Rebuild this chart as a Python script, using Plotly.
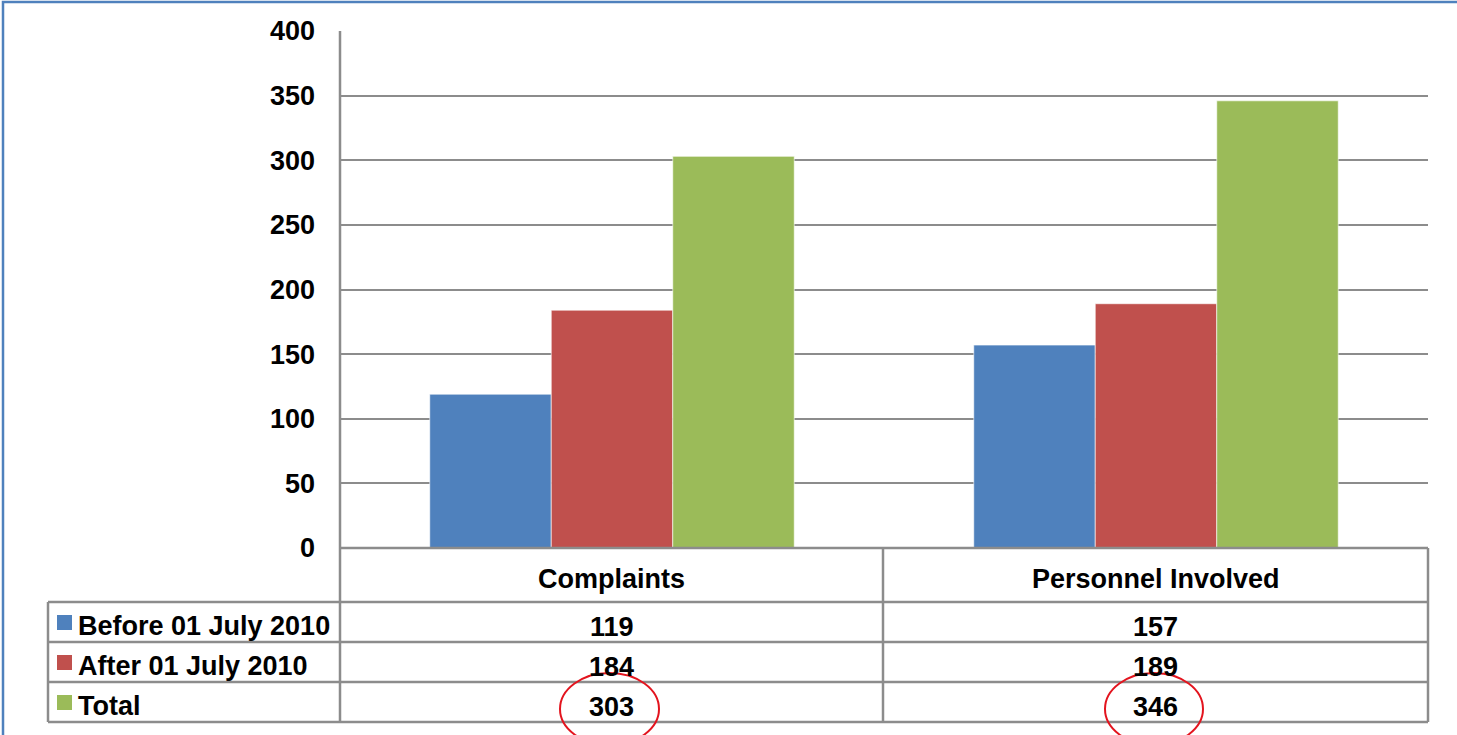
import plotly.graph_objects as go

# data
categories = ["Complaints", "Personnel Involved"]
series_names = ["Before 01 July 2010", "After 01 July 2010", "Total"]
before = [119, 157]
after = [184, 189]
total = [303, 346]
y_ticks = [0, 50, 100, 150, 200, 250, 300, 350, 400]

colors = ["#4F81BD", "#C0504D", "#9BBB59"]
series_vals = [before, after, total]

W, H = 1457, 735
def px(x):
    return x / W
def py(y):
    return 1 - y / H

FONT = "Liberation Sans, Arial, sans-serif"
FS = 27
GRID = "#8C8C8C"

fig = go.Figure()
for name, vals, col in zip(series_names, series_vals, colors):
    fig.add_trace(go.Bar(
        x=categories, y=vals, name=name,
        marker=dict(color=col, line=dict(color="rgba(255,255,255,0.6)", width=1)),
    ))

fig.update_layout(
    width=W, height=H,
    margin=dict(l=0, r=0, t=0, b=0, autoexpand=False),
    paper_bgcolor="white", plot_bgcolor="white",
    barmode="group", bargap=0.33, bargroupgap=0,
    showlegend=False,
    font=dict(family=FONT, size=FS, color="black"),
    xaxis=dict(domain=[px(340), px(1428)], showticklabels=False, automargin=False,
               showgrid=False, zeroline=False, showline=False, ticks=""),
    yaxis=dict(domain=[py(548), py(31)], range=[0, 400], tickvals=y_ticks,
               automargin=False,
               showgrid=True, gridcolor=GRID, gridwidth=2, zeroline=False,
               showline=False, ticks="", ticklabelstandoff=24,
               tickfont=dict(family=FONT, size=FS, color="black", weight="bold")),
)

shapes = []
line = dict(color=GRID, width=2.5)
# left axis line through header row
shapes.append(dict(type="line", xref="paper", yref="paper",
                   x0=px(340), x1=px(340), y0=py(31), y1=py(722), line=line))
# table horizontal lines
shapes.append(dict(type="line", xref="paper", yref="paper",
                   x0=px(340), x1=px(1428), y0=py(548), y1=py(548), line=line))
for yy in [602, 642, 682, 722]:
    shapes.append(dict(type="line", xref="paper", yref="paper",
                       x0=px(48), x1=px(1428), y0=py(yy), y1=py(yy), line=line))
# table vertical lines
shapes.append(dict(type="line", xref="paper", yref="paper",
                   x0=px(48), x1=px(48), y0=py(602), y1=py(722), line=line))
for xx in [883, 1428]:
    shapes.append(dict(type="line", xref="paper", yref="paper",
                       x0=px(xx), x1=px(xx), y0=py(548), y1=py(722), line=line))

row_y = [622, 662, 702]
col_x = [611.5, 1155.5]
annotations = []
bold = dict(family=FONT, size=FS, color="black", weight="bold")
for cx, cat in zip(col_x, categories):
    annotations.append(dict(x=px(cx), y=py(579), xref="paper", yref="paper",
                            text=cat, showarrow=False, font=bold,
                            xanchor="center", yanchor="middle"))
for ry, name, vals, col in zip(row_y, series_names, series_vals, colors):
    shapes.append(dict(type="rect", xref="paper", yref="paper",
                       x0=px(57), x1=px(72), y0=py(ry - 7), y1=py(ry + 8),
                       fillcolor=col, line=dict(width=0)))
    annotations.append(dict(x=px(76), y=py(ry + 4), xref="paper", yref="paper",
                            text=name, showarrow=False, font=bold,
                            xanchor="left", yanchor="middle"))
    for cx, v in zip(col_x, vals):
        annotations.append(dict(x=px(cx), y=py(ry + 5), xref="paper", yref="paper",
                                text=str(v), showarrow=False, font=bold,
                                xanchor="center", yanchor="middle"))

# red ellipses around totals
for x0, x1 in [(560, 659), (1105, 1203)]:
    shapes.append(dict(type="circle", xref="paper", yref="paper",
                       x0=px(x0), x1=px(x1), y0=py(673), y1=py(745),
                       line=dict(color="#E3141E", width=2)))

# outer blue frame
shapes.append(dict(type="rect", xref="paper", yref="paper",
                   x0=px(3), x1=px(1462), y0=py(2), y1=py(745),
                   line=dict(color="#4F81BD", width=2.5)))

fig.update_layout(shapes=shapes, annotations=annotations)

# pin the chart to the page's top-left corner
pin = ("document.body.style.margin='0';"
       "var d=document.getElementById('{plot_id}');"
       "d.style.position='absolute';d.style.left='0px';d.style.top='0px';")
fig.write_html("out.html", post_script=pin, config={"displayModeBar": False})
